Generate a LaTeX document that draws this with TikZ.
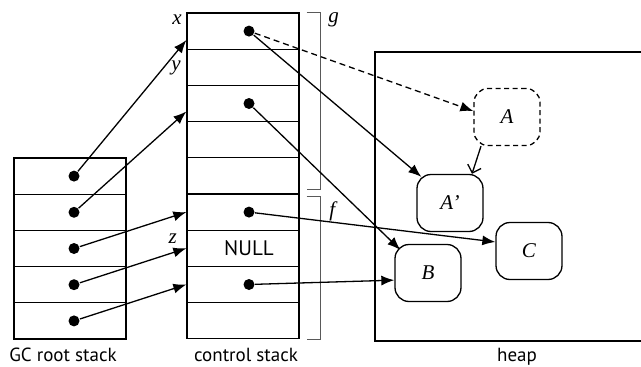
\documentclass[tikz,border=0pt]{standalone}
\usepackage{fontspec}
\setmainfont{Liberation Serif}
\setsansfont{PT Sans}
\usetikzlibrary{positioning, arrows.meta}

\begin{document}
\begin{tikzpicture} [x=1pt, y=-1pt, line width=1.3pt,
        cell/.style = {draw, minimum width=112pt, minimum height=36.2pt, inner sep=0pt},
        dot/.style = {circle, fill, inner sep=0pt, minimum size=11pt},
        obj/.style = {draw, rounded corners=14pt, minimum width=66pt, minimum height=57pt,
            font=\fontsize{21}{23}\selectfont\itshape},
        ptr/.style = {-{Latex[length=13pt, width=10pt]}},
        lbl/.style = {font=\fontsize{21}{23}\selectfont\itshape, inner sep=0pt},
        txt/.style = {font=\fontsize{19}{21}\selectfont\sffamily, inner sep=0pt},
        brk/.style = {draw=black!65, line width=1.1pt}]

        \useasboundingbox (0,0) rectangle (641,367);

        % the two stacks
        \foreach \i in {1,...,5}
            \node (gc\i) [cell] at (70, {139.9+36.2*\i}) {};
        \foreach \i in {1,...,9}
            \node (cs\i) [cell] at (243, {-5.1+36.2*\i}) {};
        \node (nul) [txt, font=\fontsize{21}{23}\selectfont\sffamily]
            at ([xshift=6pt]cs7.center) {NULL};

        \foreach \i in {1,...,5}
            \node (r\i) [dot] at ([xshift=4pt]gc\i.center) {};
        \foreach \i in {1,3,6,8}
            \node (p\i) [dot] at ([xshift=6pt]cs\i.center) {};

        \node (xl) [lbl, anchor=east] at ([xshift=-4pt, yshift=-7pt]cs1.north west) {x};
        \node (yl) [lbl, anchor=east] at ([xshift=-5pt, yshift=-19pt]cs2.north west) {y};
        \node (zl) [lbl, anchor=east] at ([xshift=-9pt, yshift=-9pt]cs7.north west) {z};

        % frames g and f
        \coordinate (gtop) at ([xshift=21pt]cs1.north east);
        \coordinate (ftop) at ([xshift=21pt, yshift=-3pt]cs6.north east);
        \draw [brk] ([xshift=-14pt]gtop) -- (gtop)
            |- ([xshift=7pt, yshift=5pt]cs5.south east);
        \draw [brk] ([xshift=-14pt]ftop) -- (ftop)
            |- ([xshift=7pt]cs9.south east);
        \node (gl) [lbl, anchor=west] at ([xshift=7pt, yshift=-7pt]gtop) {g};
        \node (fl) [lbl, anchor=west] at ([xshift=8pt, yshift=-15pt]ftop) {f};

        % heap
        \draw (641,52) -- (375,52) -- (375,341) -- (641,341);
        \node (A) [obj, dash pattern=on 5pt off 3.5pt] at (507,117) {A};
        \node (Ap) [obj] at (450,203) {A’};
        \node (B) [obj] at (428,273) {B};
        \node (C) [obj] at (529,251) {C};

        \node (gclbl) [txt, anchor=base] at (63,361) {GC root stack};
        \node (cslbl) [txt, anchor=base] at (246,361) {control stack};
        \node (hplbl) [txt, anchor=base] at (517,361) {heap};

        % pointers
        \draw [ptr] (r1) -- ([yshift=-9pt]cs1.west);
        \draw [ptr] (r2) -- ([yshift=-8pt]cs3.west);
        \draw [ptr] (r3) -- (cs6.west);
        \draw [ptr] (r4) -- (cs7.west);
        \draw [ptr] (r5) -- (cs8.west);

        \draw [ptr, dash pattern=on 6pt off 4pt] (p1) -- (A.170);
        \draw [ptr] (p1) -- ([xshift=5pt, yshift=-3pt]Ap.north west);
        \draw [ptr] (p3) -- ([xshift=6pt, yshift=-6pt]B.north west);
        \draw [ptr] (p6) -- (C.165);
        \draw [ptr] (p8) -- (B.192);
        \draw [-{Straight Barb[length=7pt, width=14pt]}]
            ([xshift=-26pt]A.south) -- ([xshift=22pt]Ap.north);

    \end{tikzpicture}
\end{document}
